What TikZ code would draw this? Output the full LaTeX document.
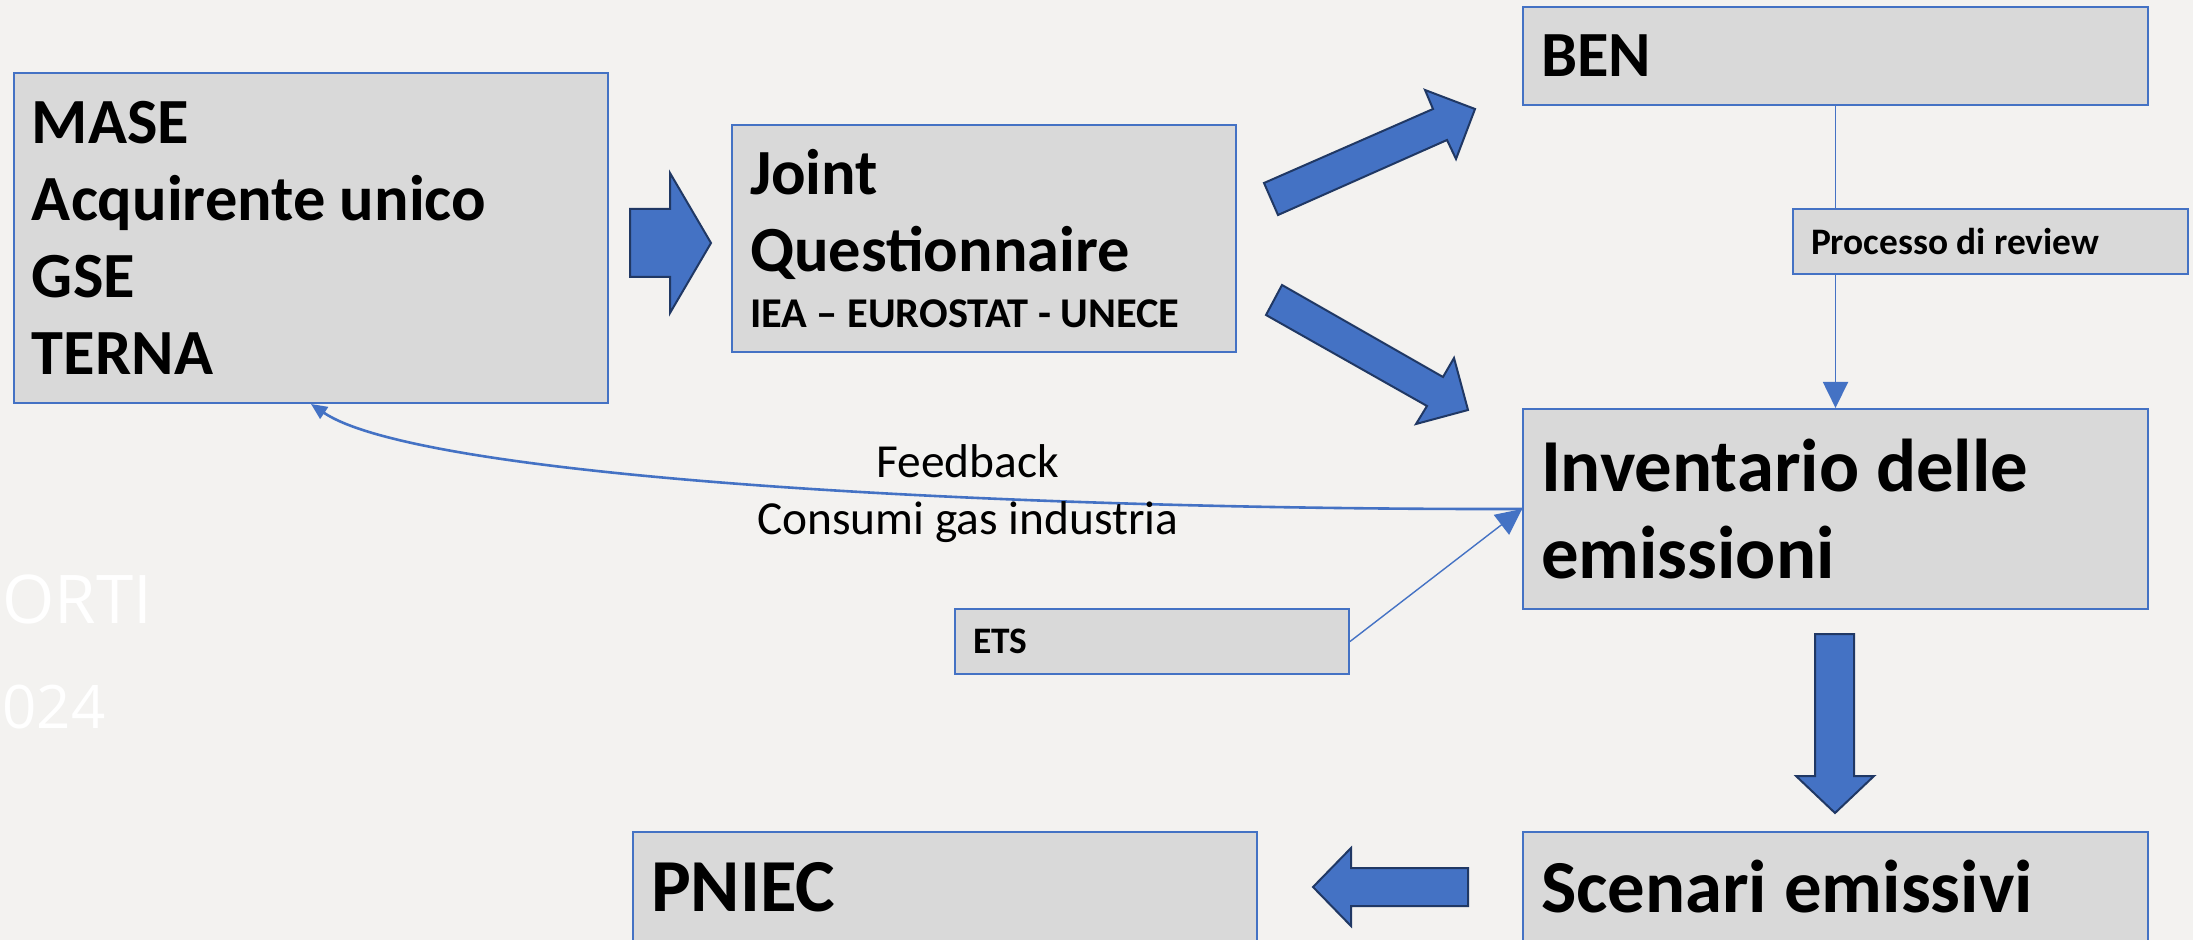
\documentclass[tikz,border=0pt]{standalone}
\usepackage{fontspec}
\setmainfont{Carlito}
\newfontfamily\bgfont{Open Sans}
\usetikzlibrary{arrows.meta}

\definecolor{boxblue}{HTML}{4472C4}
\definecolor{boxgray}{HTML}{D9D9D9}
\definecolor{arrowedge}{HTML}{203864}
\definecolor{paper}{HTML}{F3F2F0}

\tikzset{
  box/.style={draw=boxblue, fill=boxgray, line width=1pt, inner xsep=9pt, inner ysep=0pt, align=flush left},
  bigtext/.style={font=\bfseries\fontsize{32.2}{38.4}\selectfont},
  hugetext/.style={font=\bfseries\fontsize{37.4}{43.75}\selectfont},
  smalltext/.style={font=\bfseries\fontsize{18.7}{22.4}\selectfont},
  fatarrow/.style={fill=boxblue, draw=arrowedge, line width=1pt, line join=miter},
  link/.style={draw=boxblue, line width=0.9pt, -{Triangle[length=13pt,width=12.5pt]}},
}

\begin{document}
\begin{tikzpicture}[x=0.5pt, y=-0.5pt]
  % page and background
  \useasboundingbox (0,0) rectangle (2193,940);
  \clip (0,0) rectangle (2193,940);
  \fill [paper] (0,0) rectangle (2193,940);
  \node [anchor=base west, inner sep=0pt, text=white, font=\bgfont\fontsize{33.6}{40}\selectfont] (bgtop) at (2,623) {ORTI};
  \node [anchor=base west, inner sep=0pt, text=white, font=\bgfont\fontsize{30}{36}\selectfont] (bgyear) at (2,728) {024};

  % boxes
  \node [box, bigtext, minimum width=297pt, minimum height=165pt, text width=279pt] (mase) at (311,238) {MASE\\Acquirente unico\\GSE\\TERNA};
  \node [box, bigtext, minimum width=252pt, minimum height=113.5pt, text width=234pt] (jq) at (984,238.5) {Joint\\Questionnaire\\[-10.4pt]{\fontsize{21.2}{25.4}\selectfont IEA -- EUROSTAT - UNECE}};
  \node [box, bigtext, minimum width=312.5pt, minimum height=49pt, text width=294.5pt] (ben) at (1835.5,56) {BEN};
  \node [box, hugetext, minimum width=312.5pt, minimum height=100pt, text width=294.5pt] (inv) at (1835.5,509) {Inventario delle\\emissioni};
  \node [box, hugetext, minimum width=312.5pt, minimum height=55pt, text width=294.5pt] (scen) at (1835.5,887) {Scenari emissivi};
  \node [box, hugetext, minimum width=312pt, minimum height=55pt, text width=294pt] (pniec) at (945,887) {PNIEC};
  \node [box, smalltext, minimum width=197pt, minimum height=32.5pt, text width=179pt] (ets) at (1152,641.5) {ETS};

  % review line runs under the small box
  \draw [link] (ben) -- (inv);
  \node [box, smalltext, minimum width=197.5pt, minimum height=32.5pt, text width=179.5pt] (rev) at (1990.5,241.5) {Processo di review};

  \draw [link, line width=0.7pt] (ets.east) -- (inv.west);
  \draw [draw=boxblue, line width=1.3pt, -{Triangle[length=8pt,width=7pt]}] (inv.west) .. controls (1000,510) and (420,478) .. (mase.south)
    node [pos=.355, yshift=2pt, align=center, inner sep=0pt, text=black, font=\fontsize{23.7}{28.5}\selectfont] (fb) {Feedback\\Consumi gas industria};

  % block arrows
  \draw [fatarrow] (630,209) -- (670,209) -- (670,173) -- (711,243) -- (670,313) -- (670,277) -- (630,277) -- cycle;
  \draw [fatarrow] (1264,183) -- (1433,109) -- (1425,90) -- (1475,109) -- (1456,159) -- (1447,140) -- (1278,215) -- cycle;
  \draw [fatarrow] (1282,285) -- (1443,377) -- (1454,358) -- (1468,410) -- (1416,424) -- (1427,406) -- (1266,315) -- cycle;
  \draw [fatarrow] (1815,634) -- (1854,634) -- (1854,776) -- (1874,776) -- (1835,813) -- (1796,776) -- (1815,776) -- cycle;
  \draw [fatarrow] (1468,868) -- (1351,868) -- (1351,848) -- (1313,887) -- (1351,926) -- (1351,906) -- (1468,906) -- cycle;
\end{tikzpicture}
\end{document}
